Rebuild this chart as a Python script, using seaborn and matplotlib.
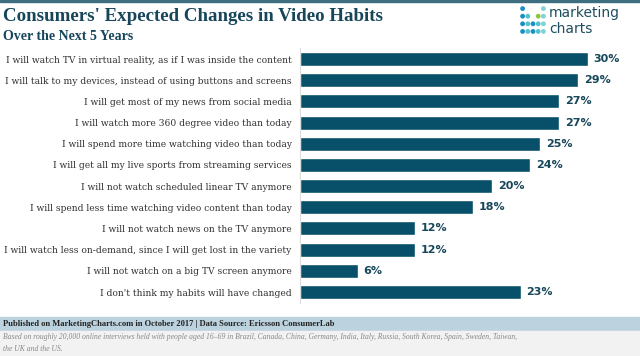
import seaborn as sns
import matplotlib.pyplot as plt
import pandas as pd
from matplotlib.patches import Rectangle

# Chart data
habits = [
    "I will watch TV in virtual reality, as if I was inside the content",
    "I will talk to my devices, instead of using buttons and screens",
    "I will get most of my news from social media",
    "I will watch more 360 degree video than today",
    "I will spend more time watching video than today",
    "I will get all my live sports from streaming services",
    "I will not watch scheduled linear TV anymore",
    "I will spend less time watching video content than today",
    "I will not watch news on the TV anymore",
    "I will watch less on-demand, since I will get lost in the variety",
    "I will not watch on a big TV screen anymore",
    "I don't think my habits will have changed",
]
shares = [30, 29, 27, 27, 25, 24, 20, 18, 12, 12, 6, 23]

df = pd.DataFrame({"Habit": habits, "Share": shares})

bar_color = "#08506a"
title_color = "#17465a"

sns.set_style("white")
plt.rcParams["font.family"] = ["DejaVu Serif"]

fig = plt.figure(figsize=(6.4, 3.56), dpi=100)
ax = fig.add_axes([300 / 640, 0.150, 320 / 640, 0.714])

sns.barplot(data=df, x="Share", y="Habit", ax=ax, color=bar_color,
            width=0.66, saturation=1, orient="h")

ax.set_xlim(0, 320 / 9.6)
ax.set_xlabel("")
ax.set_ylabel("")
ax.set_xticks([])
for side in ["top", "right", "bottom"]:
    ax.spines[side].set_visible(False)
ax.spines["left"].set_color("#dddddd")
ax.spines["left"].set_linewidth(0.8)
ax.tick_params(axis="y", length=3, color="#dddddd", pad=3, labelsize=6.6,
               labelcolor="#333333")

for i, v in enumerate(shares):
    ax.text(v + 0.6, i, f"{v}%", va="center", ha="left", fontsize=8,
            fontweight="bold", color=title_color, family="DejaVu Sans")

# Top border
fig.patches.append(Rectangle((0, 0.994), 1, 0.006, transform=fig.transFigure,
                             color="#3e6f80", zorder=0))

# Titles
fig.text(0.005, 0.953, "Consumers' Expected Changes in Video Habits",
         fontsize=13.6, fontweight="bold", color=title_color, va="center",
         family="Liberation Serif")
fig.text(0.005, 0.898, "Over the Next 5 Years", fontsize=10,
         fontweight="bold", color=title_color, va="center",
         family="Liberation Serif")

# Logo
dot_rows = [
    ["#1c8fc0", None, None, None, "#7fd3d8"],
    ["#1c8fc0", "#4fc3d0", None, "#8cc63f", "#7fd3d8"],
    ["#1c8fc0", "#4fc3d0", "#1c8fc0", "#4fc3d0", "#7fd3d8"],
    ["#1c8fc0", "#4fc3d0", "#1c8fc0", "#4fc3d0", "#7fd3d8"],
]
logo_x, logo_y, logo_c = [], [], []
for r, row in enumerate(dot_rows):
    for c, col in enumerate(row):
        if col:
            logo_x.append(c)
            logo_y.append(r)
            logo_c.append(col)
lax = fig.add_axes([520 / 640, 1 - 36 / 356, 26 / 640, 32 / 356])
lax.scatter(logo_x, logo_y, c=logo_c, s=12, linewidths=0)
lax.set_xlim(-0.5, 4.5)
lax.set_ylim(3.6, -0.6)
lax.axis("off")
fig.text(549 / 640, 1 - 13 / 356, "marketing", fontsize=10, color="#1f4e5f",
         va="center", family="DejaVu Sans")
fig.text(549 / 640, 1 - 29 / 356, "charts", fontsize=10, color="#1f4e5f",
         va="center", family="DejaVu Sans")

# Footer
fig.patches.append(Rectangle((0, 0.070), 1, 0.040, transform=fig.transFigure,
                             color="#bcd2de", zorder=0))
fig.patches.append(Rectangle((0, 0), 1, 0.070, transform=fig.transFigure,
                             color="#f2f2f2", zorder=0))
fig.text(0.005, 0.090,
         "Published on MarketingCharts.com in October 2017 | Data Source: Ericsson ConsumerLab",
         fontsize=6.1, fontweight="bold", color="#222222", va="center",
         family="Liberation Serif")
fig.text(0.005, 0.052,
         "Based on roughly 20,000 online interviews held with people aged 16\u201369 in Brazil, "
         "Canada, China, Germany, India, Italy, Russia, South Korea, Spain, Sweden, Taiwan,",
         fontsize=5.5, style="italic", color="#888888", va="center",
         family="Liberation Serif")
fig.text(0.005, 0.020, "the UK and the US.", fontsize=5.5, style="italic",
         color="#888888", va="center", family="Liberation Serif")

fig.savefig("out.png", dpi=100)
